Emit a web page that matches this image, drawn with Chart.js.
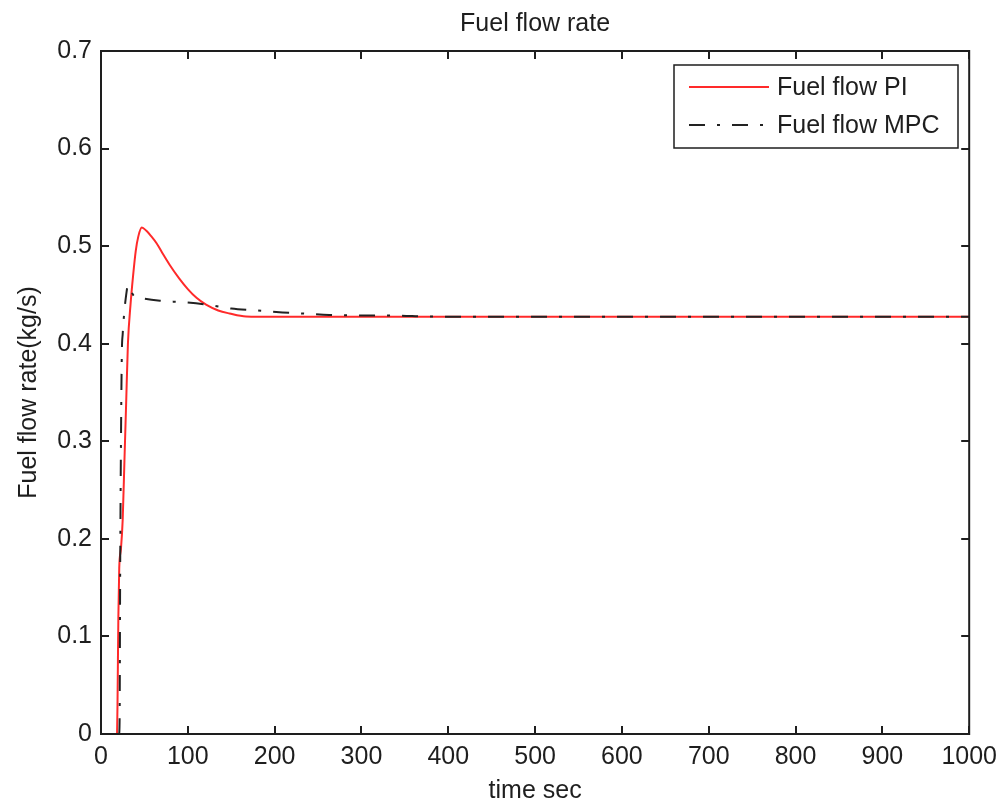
<!DOCTYPE html>
<html>
<head>
<meta charset="utf-8">
<script src="https://cdn.jsdelivr.net/npm/chart.js@4/dist/chart.umd.min.js"></script>
<style>
  html, body { margin: 0; padding: 0; background: #fff; }
  #wrap { width: 1005px; height: 810px; }
</style>
</head>
<body>
<div id="wrap"><canvas id="fuelChart" width="1005" height="810"></canvas></div>
<script>
// PI controller response
const piTime = [18.5, 19, 20, 21, 23, 25, 27, 29, 31, 34, 37, 40, 43, 47, 52, 58, 64, 70, 79, 90, 100, 110, 121, 135, 148, 167, 200, 300, 1000];
const piFlow = [0, 0.03, 0.12, 0.17, 0.19, 0.22, 0.28, 0.34, 0.40, 0.44, 0.47, 0.495, 0.51, 0.519, 0.516, 0.510, 0.503, 0.494, 0.481, 0.467, 0.456, 0.447, 0.440, 0.434, 0.431, 0.428, 0.4277, 0.4277, 0.4277];

// MPC controller response
const mpcTime = [21, 21.5, 22, 23, 24, 25, 27, 29, 31, 34, 38, 45, 68, 95, 122, 150, 180, 209, 232, 263, 300, 344, 370, 400, 1000];
const mpcFlow = [0, 0.02, 0.15, 0.30, 0.39, 0.41, 0.434, 0.45, 0.46, 0.455, 0.449, 0.447, 0.444, 0.4425, 0.440, 0.436, 0.434, 0.432, 0.431, 0.4295, 0.429, 0.4288, 0.428, 0.4277, 0.4277];

const xTicks = [0, 100, 200, 300, 400, 500, 600, 700, 800, 900, 1000];
const yTicks = [0, 0.1, 0.2, 0.3, 0.4, 0.5, 0.6, 0.7];

const FONT = '"Liberation Sans", Arial, sans-serif';
const INK = '#1e1e1e';

function toPoints(xs, ys) {
    return xs.map((x, i) => ({ x: x, y: ys[i] }));
}

// box, inward ticks, titles and legend
const matlabAxes = {
    id: 'matlabAxes',
    beforeDraw(chart) {
        const ctx = chart.ctx;
        ctx.save();
        ctx.fillStyle = '#fff';
        ctx.fillRect(0, 0, chart.width, chart.height);
        ctx.restore();
    },
    afterDraw(chart) {
        const ctx = chart.ctx;
        const a = chart.chartArea;
        const xs = chart.scales.x;
        const ys = chart.scales.y;
        const tick = 8;

        ctx.save();
        ctx.strokeStyle = INK;
        ctx.lineWidth = 2;
        ctx.strokeRect(a.left, a.top, a.right - a.left, a.bottom - a.top);

        ctx.beginPath();
        xTicks.forEach(v => {
            const px = Math.round(xs.getPixelForValue(v));
            ctx.moveTo(px, a.bottom); ctx.lineTo(px, a.bottom - tick);
            ctx.moveTo(px, a.top); ctx.lineTo(px, a.top + tick);
        });
        yTicks.forEach(v => {
            const py = Math.round(ys.getPixelForValue(v));
            ctx.moveTo(a.left, py); ctx.lineTo(a.left + tick, py);
            ctx.moveTo(a.right, py); ctx.lineTo(a.right - tick, py);
        });
        ctx.stroke();

        // titles
        ctx.fillStyle = INK;
        ctx.font = '25px ' + FONT;
        ctx.textAlign = 'center';
        ctx.textBaseline = 'alphabetic';
        ctx.fillText('Fuel flow rate', (a.left + a.right) / 2, 31);
        ctx.fillText('time sec', (a.left + a.right) / 2, 798);

        ctx.save();
        ctx.translate(36, (a.top + a.bottom) / 2);
        ctx.rotate(-Math.PI / 2);
        ctx.fillText('Fuel flow rate(kg/s)', 0, 0);
        ctx.restore();

        // legend
        const lx = 674, ly = 65, lw = 284, lh = 83;
        ctx.fillStyle = '#fff';
        ctx.fillRect(lx, ly, lw, lh);
        ctx.lineWidth = 1.5;
        ctx.strokeStyle = INK;
        ctx.strokeRect(lx, ly, lw, lh);

        chart.data.datasets.forEach((ds, i) => {
            const y = 87 + i * 38;
            ctx.beginPath();
            ctx.strokeStyle = ds.borderColor;
            ctx.lineWidth = ds.borderWidth;
            ctx.setLineDash(ds.borderDash || []);
            ctx.moveTo(689, y);
            ctx.lineTo(769, y);
            ctx.stroke();
            ctx.setLineDash([]);
            ctx.fillStyle = INK;
            ctx.textAlign = 'left';
            ctx.textBaseline = 'middle';
            ctx.font = '25px ' + FONT;
            ctx.fillText(ds.label, 777, y + 1);
        });
        ctx.restore();
    }
};

new Chart(document.getElementById('fuelChart'), {
    type: 'line',
    data: {
        datasets: [
            {
                label: 'Fuel flow PI',
                data: toPoints(piTime, piFlow),
                borderColor: '#ff2a2a',
                borderWidth: 2,
                pointRadius: 0,
                cubicInterpolationMode: 'monotone',
                fill: false,
                order: 1
            },
            {
                label: 'Fuel flow MPC',
                data: toPoints(mpcTime, mpcFlow),
                borderColor: '#222222',
                borderWidth: 2,
                borderDash: [16, 12, 3, 12],
                pointRadius: 0,
                cubicInterpolationMode: 'monotone',
                fill: false,
                order: 0
            }
        ]
    },
    plugins: [matlabAxes],
    options: {
        responsive: false,
        animation: false,
        layout: { padding: { top: 51, right: 34, left: 0, bottom: 0 } },
        plugins: {
            legend: { display: false },
            tooltip: { enabled: false },
            title: { display: false }
        },
        scales: {
            x: {
                type: 'linear',
                min: 0,
                max: 1000,
                afterBuildTicks: s => { s.ticks = xTicks.map(v => ({ value: v })); },
                afterFit: s => { s.height = 76; },
                grid: { display: false, drawTicks: false },
                border: { display: false },
                ticks: {
                    padding: 8,
                    color: INK,
                    font: { family: FONT, size: 25 },
                    maxRotation: 0,
                    autoSkip: false,
                    callback: v => String(v)
                }
            },
            y: {
                type: 'linear',
                min: 0,
                max: 0.7,
                afterBuildTicks: s => { s.ticks = yTicks.map(v => ({ value: v })); },
                afterFit: s => { s.width = 101; },
                grid: { display: false, drawTicks: false },
                border: { display: false },
                ticks: {
                    padding: 9,
                    color: INK,
                    font: { family: FONT, size: 25 },
                    autoSkip: false,
                    callback: v => String(Math.round(v * 10) / 10)
                }
            }
        }
    }
});
</script>
</body>
</html>
